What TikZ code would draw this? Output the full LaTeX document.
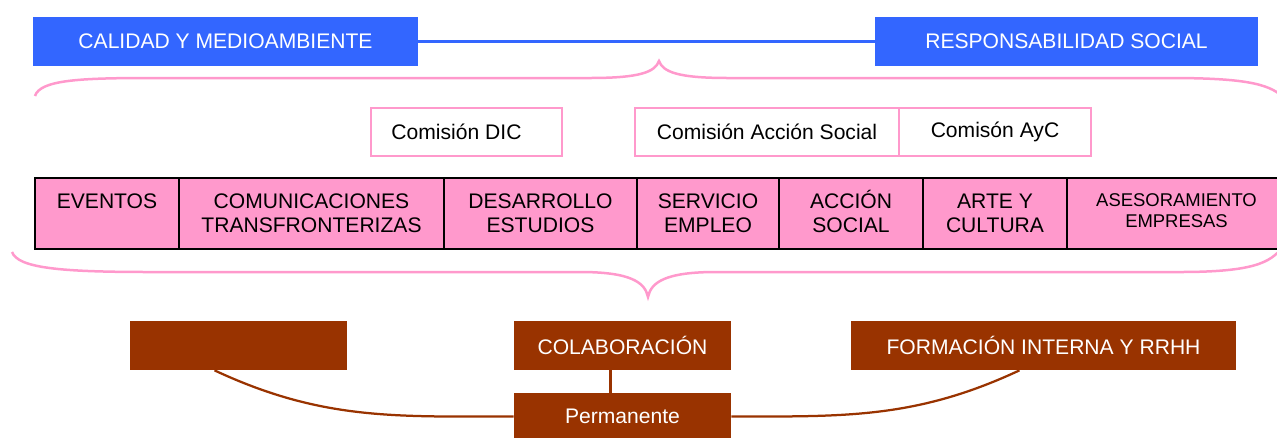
\documentclass[tikz,border=0pt]{standalone}
\usepackage{fontspec}
\setmainfont{Liberation Sans}
\definecolor{azul}{HTML}{3366FF}
\definecolor{rosa}{HTML}{FF99CC}
\definecolor{marron}{HTML}{993300}
\newcommand{\lineas}[1]{\begin{tabular}[t]{@{}c@{}}#1\end{tabular}}

\begin{document}
\begin{tikzpicture}[x=0.02cm, y=-0.02cm,
  font=\fontsize{12}{14.2}\selectfont,
  area/.style={rectangle, inner sep=0, fill=azul, text=white, minimum height=0.98cm},
  comision/.style={rectangle, inner sep=0, draw=rosa, line width=0.03cm, fill=white, minimum height=0.96cm},
  celda/.style={rectangle, inner sep=0, draw=black, line width=0.04cm, fill=rosa, minimum height=1.42cm},
  rotulo/.style={anchor=base, inner sep=0},
  linea/.style={rectangle, inner sep=0, fill=marron, text=white, minimum height=0.98cm},
  llave/.style={draw=rosa, line width=0.05cm},
  enlace/.style={draw=marron, line width=0.045cm}]
\useasboundingbox (0,0) rectangle (1277,437);

% areas
\node (cal) at (225.5, 41.5) [area, minimum width=7.7cm] {CALIDAD Y MEDIOAMBIENTE};
\node (resp) at (1066.5, 41.5) [area, minimum width=7.66cm] {RESPONSABILIDAD SOCIAL};
\draw [draw=azul, line width=0.045cm] (cal) -- (resp);

% llaves
\draw [llave] (35,96) .. controls (40,80) and (80,78) .. (150,78) -- (590,78)
  .. controls (640,78) and (655,72) .. (659,61) .. controls (663,72) and (678,78) .. (728,78)
  -- (1170,78) .. controls (1245,78) and (1268,84) .. (1282,96);
\draw [llave] (12,252) .. controls (18,268) and (60,272) .. (150,272) -- (580,272)
  .. controls (630,272) and (645,282) .. (648,297) .. controls (651,282) and (666,272) .. (716,272)
  -- (1180,272) .. controls (1255,272) and (1270,262) .. (1282,248);

% comisiones
\node (dic) at (466.5, 132) [comision, minimum width=3.82cm] {Comisión DIC\kern0.4cm};
\node (accion) at (767, 132) [comision, minimum width=5.28cm] {Comisión Acción Social};
\node (ayc) at (995, 132) [comision, minimum width=3.84cm] {Comisón AyC};

% lineas de trabajo
\node (ev) at (107, 213.5) [celda, minimum width=2.88cm] {};
\node (com) at (311.5, 213.5) [celda, minimum width=5.3cm] {};
\node (des) at (540.5, 213.5) [celda, minimum width=3.86cm] {};
\node (ser) at (708, 213.5) [celda, minimum width=2.84cm] {};
\node (acc) at (851, 213.5) [celda, minimum width=2.88cm] {};
\node (art) at (995, 213.5) [celda, minimum width=2.88cm] {};
\node (ase) at (1178.5, 213.5) [celda, minimum width=4.46cm] {};

\node (tev) at (107, 208) [rotulo] {\lineas{EVENTOS}};
\node (tcom) at (311.5, 208) [rotulo] {\lineas{COMUNICACIONES\\TRANSFRONTERIZAS}};
\node (tdes) at (540.5, 208) [rotulo] {\lineas{DESARROLLO\\ESTUDIOS}};
\node (tser) at (708, 208) [rotulo] {\lineas{SERVICIO\\EMPLEO}};
\node (tacc) at (851, 208) [rotulo] {\lineas{ACCIÓN\\SOCIAL}};
\node (tart) at (995, 208) [rotulo] {\lineas{ARTE Y\\CULTURA}};
\node (tase) at (1176.5, 206) [rotulo, font=\fontsize{10.5}{12.5}\selectfont] {\lineas{ASESORAMIENTO\\EMPRESAS}};

% abajo
\node (vacio) at (238.5, 345.5) [linea, minimum width=4.34cm] {};
\node (colab) at (622.5, 345.5) [linea, minimum width=4.34cm] {COLABORACIÓN};
\node (form) at (1043.5, 345.5) [linea, minimum width=7.7cm] {FORMACIÓN INTERNA Y RRHH};
\node (perm) at (622.5, 416.5) [linea, minimum width=4.34cm, minimum height=0.94cm] {Permanente};

\draw [enlace] ([xshift=-0.24cm]colab.south) -- ([xshift=-0.24cm]perm.north);
\draw [enlace] (vacio.226) to [out=-25, in=180] (perm.west);
\draw [enlace] (perm.east) to [out=0, in=205] (form.226);
\end{tikzpicture}
\end{document}
